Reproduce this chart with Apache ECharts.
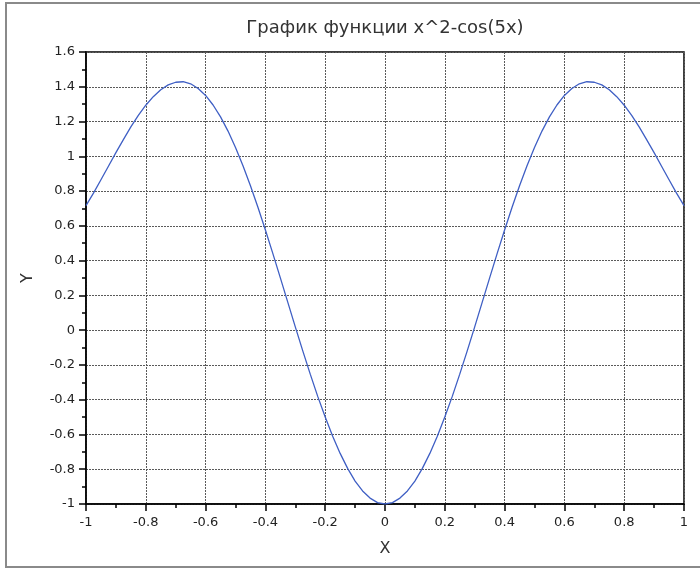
<!DOCTYPE html>
<html>
<head>
<meta charset="utf-8">
<script src="https://cdn.jsdelivr.net/npm/echarts@6/dist/echarts.min.js"></script>
<style>
  html, body { margin: 0; padding: 0; background: #fff; }
  #chart { width: 700px; height: 569px; }
</style>
</head>
<body>
<div id="chart"></div>
<script>
// Samples of y = x^2 - cos(5x) on [-1, 1]
const xValues = [
  -1.000, -0.975, -0.950, -0.925, -0.900, -0.875, -0.850, -0.825, -0.800, -0.775,
  -0.750, -0.725, -0.700, -0.675, -0.650, -0.625, -0.600, -0.575, -0.550, -0.525,
  -0.500, -0.475, -0.450, -0.425, -0.400, -0.375, -0.350, -0.325, -0.300, -0.275,
  -0.250, -0.225, -0.200, -0.175, -0.150, -0.125, -0.100, -0.075, -0.050, -0.025,
   0.000,  0.025,  0.050,  0.075,  0.100,  0.125,  0.150,  0.175,  0.200,  0.225,
   0.250,  0.275,  0.300,  0.325,  0.350,  0.375,  0.400,  0.425,  0.450,  0.475,
   0.500,  0.525,  0.550,  0.575,  0.600,  0.625,  0.650,  0.675,  0.700,  0.725,
   0.750,  0.775,  0.800,  0.825,  0.850,  0.875,  0.900,  0.925,  0.950,  0.975,
   1.000
];
const yValues = [
   0.716,  0.788,  0.865,  0.943,  1.021,  1.096,  1.169,  1.236,  1.294,  1.343,
   1.383,  1.411,  1.426,  1.429,  1.417,  1.390,  1.350,  1.295,  1.227,  1.145,
   1.051,  0.946,  0.831,  0.707,  0.576,  0.440,  0.301,  0.160,  0.019, -0.119,
  -0.253, -0.381, -0.500, -0.610, -0.709, -0.795, -0.868, -0.925, -0.966, -0.992,
  -1.000, -0.992, -0.966, -0.925, -0.868, -0.795, -0.709, -0.610, -0.500, -0.381,
  -0.253, -0.119,  0.019,  0.160,  0.301,  0.440,  0.576,  0.707,  0.831,  0.946,
   1.051,  1.145,  1.227,  1.295,  1.350,  1.390,  1.417,  1.429,  1.426,  1.411,
   1.383,  1.343,  1.294,  1.236,  1.169,  1.096,  1.021,  0.943,  0.865,  0.788,
   0.716
];
const titleText = 'График функции x^2-cos(5x)';
const xAxisName = 'X';
const yAxisName = 'Y';

const points = xValues.map((x, i) => [x, yValues[i]]);

const FONT = 'DejaVu Sans';
const gridLine = { show: true, lineStyle: { color: '#5a5a5a', width: 1, type: [2, 1] } };
const axisLineStyle = { show: true, onZero: false, lineStyle: { color: '#000', width: 1.5 } };

function fmt(v) {
  const r = Math.round(v * 10) / 10;
  return String(r);
}

const chart = echarts.init(document.getElementById('chart'), null, { renderer: 'canvas' });
chart.setOption({
  backgroundColor: '#fff',
  animation: false,
  title: {
    text: titleText,
    left: 380, top: 14, textAlign: 'center',
    textStyle: { fontFamily: FONT, fontSize: 18, fontWeight: 'normal', color: '#333' }
  },
  graphic: [{
    type: 'rect', silent: true, z: -1,
    shape: { x: 6, y: 3, width: 700, height: 564 },
    style: { fill: 'none', stroke: '#8a8a8a', lineWidth: 2 }
  }],
  grid: {
    left: 86, top: 52, width: 598, height: 452,
    show: true, borderColor: '#000', borderWidth: 1.5, backgroundColor: 'transparent'
  },
  xAxis: {
    type: 'value', min: -1, max: 1, interval: 0.2,
    name: xAxisName, nameLocation: 'middle', nameGap: 37,
    nameTextStyle: { fontFamily: FONT, fontSize: 16, color: '#333' },
    axisLine: axisLineStyle,
    axisTick: { show: true, inside: false, length: 7, lineStyle: { color: '#000', width: 1.5 } },
    minorTick: { show: true, splitNumber: 2, length: 4, lineStyle: { color: '#000', width: 1.5 } },
    axisLabel: { margin: 12, fontFamily: FONT, fontSize: 13, color: '#222', formatter: fmt },
    splitLine: gridLine
  },
  yAxis: {
    type: 'value', min: -1, max: 1.6, interval: 0.2,
    name: yAxisName, nameLocation: 'middle', nameGap: 50, nameRotate: 90,
    nameTextStyle: { fontFamily: FONT, fontSize: 16, color: '#333' },
    axisLine: axisLineStyle,
    axisTick: { show: true, inside: false, length: 7, lineStyle: { color: '#000', width: 1.5 } },
    minorTick: { show: true, splitNumber: 2, length: 4, lineStyle: { color: '#000', width: 1.5 } },
    axisLabel: { margin: 11, fontFamily: FONT, fontSize: 13, color: '#222', formatter: fmt },
    splitLine: gridLine
  },
  series: [{
    type: 'line',
    data: points,
    showSymbol: false,
    smooth: false,
    lineStyle: { color: '#3f5fc4', width: 1.3 },
    clip: true
  }]
});
</script>
</body>
</html>
